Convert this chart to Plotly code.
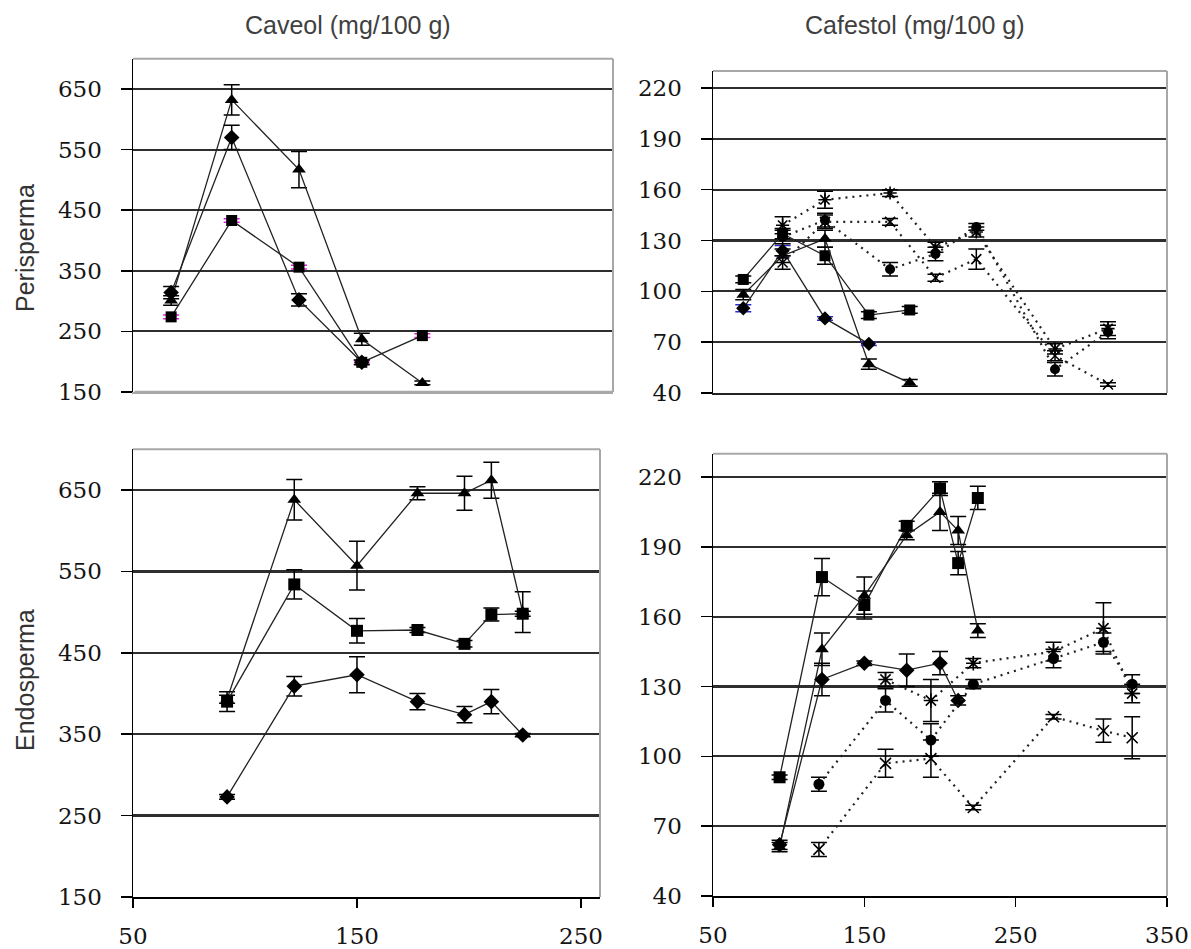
import plotly.graph_objects as go

# ---------------- data ----------------
# Caveol - Perisperma (top-left)
tl_x = [67, 94, 124, 152, 179]
tl_tri = [301, 632, 517, 237, 165]
tl_tri_err = [8, 25, 30, 10, 3]
tl_sq = [274, 433, 356, 199, 243]
tl_sq_err = [3, 3, 3, 3, 3]
tl_dia = [314, 570, 302, 199]
tl_dia_err = [10, 20, 10, 4]

# Caveol - Endosperma (bottom-left)
bl_x = [92, 122, 150, 177, 198, 210, 224]
bl_tri = [393, 638, 557, 646, 646, 662, 500]
bl_tri_err = [5, 25, 30, 8, 21, 22, 25]
bl_sq = [390, 534, 477, 478, 461, 497, 498]
bl_sq_err = [12, 18, 15, 3, 4, 8, 3]
bl_dia = [273, 409, 423, 390, 374, 390, 349]
bl_dia_err = [3, 12, 22, 10, 10, 15, 2]

# Cafestol - Perisperma (top-right)
tr_xs = [70, 96, 124, 153, 180]
tr_sq = [107, 134, 121, 86, 89]
tr_sq_err = [2, 3, 5, 2, 2]
tr_tri = [98, 121, 131, 57, 46]
tr_tri_err = [3, 4, 5, 3, 2]
tr_dia = [90, 124, 84, 69]
tr_dia_err = [2, 3, 1, 1]
tr_xd = [96, 124, 167, 197, 224, 276, 311]
tr_circ = [132, 142, 113, 122, 138, 54, 76]
tr_circ_err = [4, 4, 4, 4, 2, 4, 4]
tr_star = [139, 154, 158, 126, 135, 66, 78]
tr_star_err = [5, 5, 2, 3, 3, 3, 4]
tr_cross = [117, 141, 141, 108, 119, 62, 45]
tr_cross_err = [4, 4, 2, 2, 6, 3, 1]

# Cafestol - Endosperma (bottom-right)
br_xs = [94, 122, 150, 178, 200, 212, 225]
br_sq = [91, 177, 165, 199, 215, 183, 211]
br_sq_err = [1, 8, 6, 2, 3, 5, 5]
br_tri = [61, 146, 169, 195, 205, 197, 154]
br_tri_err = [2, 7, 8, 2, 8, 6, 3]
br_dia = [62, 133, 140, 137, 140, 124]
br_dia_err = [2, 7, 1, 7, 5, 2]
br_xd = [120, 164, 194, 222, 275, 308, 327]
br_circ = [88, 124, 107, 131, 142, 149, 131]
br_circ_err = [3, 5, 7, 2, 4, 4, 4]
br_star = [133, 124, 140, 145, 155, 127]
br_star_err = [3, 9, 2, 4, 11, 4]
br_cross = [60, 97, 99, 78, 117, 111, 108]
br_cross_err = [3, 6, 8, 1, 1, 5, 9]

col_titles = ["Caveol (mg/100 g)", "Cafestol (mg/100 g)"]
row_titles = ["Perisperma", "Endosperma"]
caveol_ticks = [150, 250, 350, 450, 550, 650]
cafestol_ticks = [40, 70, 100, 130, 160, 190, 220]
x_ticks_left = [50, 150, 250]
x_ticks_right = [50, 150, 250, 350]

# ---------------- layout helpers ----------------
W, H = 1191, 949


def dx(p0, p1):
    return [p0 / W, p1 / W]


def dy(top, bot):
    return [1 - bot / H, 1 - top / H]


fig = go.Figure()

SOLID = dict(color="#222222", width=1.3)
DOT = dict(color="#222222", width=2.2, dash="2px,5px")


def add(x, y, err, xa, ya, symbol, size=10, line=SOLID, ecol="black", open_=False):
    mk = dict(symbol=symbol, size=size, color="black")
    if open_:
        mk["line"] = dict(color="black", width=1.6)
    fig.add_trace(go.Scatter(
        x=x, y=y, mode="lines+markers", line=line, marker=mk,
        error_y=dict(type="data", array=err, color=ecol, thickness=1.5, width=8),
        xaxis=xa, yaxis=ya, showlegend=False, hoverinfo="skip"))


# top-left
add(tl_x, tl_tri, tl_tri_err, "x", "y", "triangle-up", 12)
add(tl_x, tl_sq, tl_sq_err, "x", "y", "square", 11, ecol="#e020e0")
add(tl_x[:4], tl_dia, tl_dia_err, "x", "y", "diamond", 12)

# top-right
add(tr_xs, tr_sq, tr_sq_err, "x2", "y2", "square", 11)
add(tr_xs, tr_tri, tr_tri_err, "x2", "y2", "triangle-up", 12)
add(tr_xs[:4], tr_dia, tr_dia_err, "x2", "y2", "diamond", 11, ecol="#2a2ad0")
add(tr_xd, tr_circ, tr_circ_err, "x2", "y2", "circle", 10, line=DOT)
add(tr_xd, tr_star, tr_star_err, "x2", "y2", "asterisk-open", 11, line=DOT, open_=True)
add(tr_xd, tr_cross, tr_cross_err, "x2", "y2", "x-thin-open", 10, line=DOT, open_=True)

# bottom-left
add(bl_x, bl_tri, bl_tri_err, "x3", "y3", "triangle-up", 12)
add(bl_x, bl_sq, bl_sq_err, "x3", "y3", "square", 12)
add(bl_x, bl_dia, bl_dia_err, "x3", "y3", "diamond", 12)

# bottom-right
add(br_xs, br_sq, br_sq_err, "x4", "y4", "square", 12)
add(br_xs, br_tri, br_tri_err, "x4", "y4", "triangle-up", 12)
add(br_xs[:6], br_dia, br_dia_err, "x4", "y4", "diamond", 12)
add(br_xd, br_circ, br_circ_err, "x4", "y4", "circle", 11, line=DOT)
add(br_xd[1:], br_star, br_star_err, "x4", "y4", "asterisk-open", 12, line=DOT, open_=True)
add(br_xd, br_cross, br_cross_err, "x4", "y4", "x-thin-open", 11, line=DOT, open_=True)

TICKFONT = dict(family="DejaVu Serif", size=23, color="#141414")


def yax(domain, rng, ticks, anchor):
    return dict(domain=domain, range=rng, tickvals=ticks, anchor=anchor,
                showgrid=True, gridcolor="#2e2e2e", gridwidth=2.2,
                showline=True, linecolor="black", linewidth=1.5,
                ticks="outside", ticklen=11, tickcolor="black", tickwidth=1.5,
                ticklabelstandoff=14, tickfont=TICKFONT, zeroline=False,
                automargin=False, fixedrange=True)


def xax(domain, rng, anchor, ticks=None, bottom=False, linecolor="black"):
    d = dict(domain=domain, range=rng, anchor=anchor, showgrid=False,
             zeroline=False, fixedrange=True, automargin=False,
             showline=True, linecolor=linecolor, linewidth=1.8)
    if bottom:
        d.update(tickvals=ticks, ticks="outside", ticklen=9, tickcolor="black",
                 tickwidth=1.5, ticklabelstandoff=9, tickfont=TICKFONT)
    else:
        d.update(showticklabels=False, ticks="")
    return d


fig.update_layout(
    width=W, height=H, margin=dict(l=0, r=0, t=0, b=0),
    paper_bgcolor="white", plot_bgcolor="white", showlegend=False,
    xaxis=xax(dx(133, 613), [50, 264], "y", linecolor="#a8a8a8"),
    yaxis=yax(dy(58.7, 392), [150, 700], caveol_ticks, "x"),
    xaxis2=xax(dx(713, 1167), [50, 350], "y2", linecolor="#222"),
    yaxis2=yax(dy(71, 393), [40, 230], cafestol_ticks, "x2"),
    xaxis3=xax(dx(133, 600), [50, 258.5], "y3", x_ticks_left, bottom=True),
    yaxis3=yax(dy(449.3, 897), [150, 700], caveol_ticks, "x3"),
    xaxis4=xax(dx(713, 1167), [50, 350], "y4", x_ticks_right, bottom=True),
    yaxis4=yax(dy(453.7, 896), [40, 230], cafestol_ticks, "x4"),
)

# gray frame (top and right edges); gray bottom edge for the top-left panel
shapes = []
for xa, ya in [("x", "y"), ("x2", "y2"), ("x3", "y3"), ("x4", "y4")]:
    shapes.append(dict(type="line", xref=f"{xa} domain", yref=f"{ya} domain",
                       x0=0, x1=1, y0=1, y1=1, line=dict(color="#a8a8a8", width=2)))
    shapes.append(dict(type="line", xref=f"{xa} domain", yref=f"{ya} domain",
                       x0=1, x1=1, y0=0, y1=1, line=dict(color="#a8a8a8", width=2)))
shapes.append(dict(type="line", xref="x domain", yref="y domain",
                   x0=0.003, x1=1, y0=0, y1=0, line=dict(color="#a8a8a8", width=2.5)))
fig.update_layout(shapes=shapes)

# titles
TITLEFONT = dict(family="Liberation Sans", size=25, color="#404040")
fig.add_annotation(text=col_titles[0], x=348 / W, y=1 - 25 / H,
                   xref="paper", yref="paper", showarrow=False,
                   xanchor="center", yanchor="middle", font=TITLEFONT)
fig.add_annotation(text=col_titles[1], x=915 / W, y=1 - 25 / H,
                   xref="paper", yref="paper", showarrow=False,
                   xanchor="center", yanchor="middle", font=TITLEFONT)
ROWFONT = dict(family="Liberation Sans", size=25, color="#333333")
fig.add_annotation(text=row_titles[0], x=25 / W, y=1 - 248 / H,
                   xref="paper", yref="paper", showarrow=False, textangle=-90,
                   xanchor="center", yanchor="middle", font=ROWFONT)
fig.add_annotation(text=row_titles[1], x=25 / W, y=1 - 680 / H,
                   xref="paper", yref="paper", showarrow=False, textangle=-90,
                   xanchor="center", yanchor="middle", font=ROWFONT)

fig.write_html(
    "out.html",
    config={"displayModeBar": False, "staticPlot": True},
    post_script="document.body.style.margin='0';document.body.style.overflow='hidden';",
)
